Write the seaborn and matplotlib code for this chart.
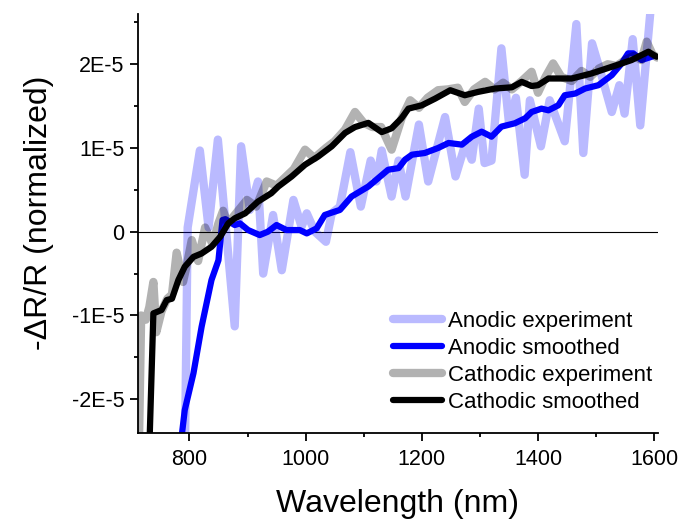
import matplotlib
matplotlib.use('Agg')
import matplotlib.pyplot as plt
from matplotlib.ticker import MultipleLocator, FuncFormatter
import numpy as np
import seaborn as sns

# values, y in units of 1E-5
SCALE = 1e-5

anodic_exp_nm = [792, 797, 818, 833, 849, 878, 889, 904, 918, 927, 944, 959, 979, 993, 1002,
                 1016, 1035, 1045, 1059, 1077, 1095, 1112, 1122, 1131, 1148, 1160, 1172, 1195,
                 1211, 1240, 1258, 1275, 1286, 1298, 1308, 1320, 1337, 1350, 1362, 1377, 1386,
                 1405, 1420, 1446, 1466, 1478, 1493, 1508, 1527, 1540, 1549, 1563, 1576, 1595]
anodic_exp_val = [-2.8, 0.05, 0.97, 0.05, 1.10, -1.13, 1.02, 0.26, 0.60, -0.50, 0.20, -0.46, 0.38,
                  0.06, 0.22, 0.0, -0.12, 0.22, 0.30, 0.95, 0.30, 0.85, 0.60, 0.97, 0.42, 0.85,
                  0.42, 1.28, 0.60, 1.37, 0.66, 1.05, 0.86, 1.47, 0.82, 0.85, 2.19, 1.30, 1.60,
                  0.68, 1.57, 1.02, 1.57, 1.08, 2.48, 0.94, 2.25, 1.90, 1.43, 1.75, 1.41, 2.30,
                  1.27, 2.75]

anodic_smooth_nm = [784, 792, 807, 821, 838, 850, 857, 862, 878, 887, 901, 921, 935, 950, 967,
                    990, 1002, 1019, 1033, 1050, 1059, 1079, 1108, 1142, 1160, 1171, 1183, 1205,
                    1228, 1246, 1269, 1286, 1303, 1320, 1337, 1360, 1378, 1389, 1406, 1418, 1435,
                    1446, 1464, 1481, 1504, 1527, 1544, 1555, 1564, 1578, 1600]
anodic_smooth_val = [-2.6, -2.13, -1.69, -1.135, -0.577, -0.34, 0.14, 0.15, 0.08, 0.10, 0.02,
                     -0.04, 0.0, 0.08, 0.02, 0.02, -0.02, 0.04, 0.20, 0.24, 0.26, 0.42, 0.54, 0.74,
                     0.76, 0.86, 0.92, 0.94, 1.00, 1.06, 1.04, 1.135, 1.195, 1.135, 1.255, 1.295,
                     1.355, 1.43, 1.47, 1.45, 1.51, 1.63, 1.65, 1.71, 1.75, 1.87, 2.01, 2.13, 2.13,
                     2.05, 2.10]

cathodic_exp_nm = [713, 717, 725, 731, 738, 743, 752, 762, 770, 778, 789, 797, 804, 815, 827,
                   840, 850, 858, 866, 878, 899, 915, 933, 950, 965, 980, 999, 1015, 1035, 1050,
                   1068, 1085, 1100, 1115, 1130, 1148, 1165, 1180, 1195, 1210, 1228, 1245, 1262,
                   1274, 1290, 1309, 1325, 1340, 1355, 1372, 1389, 1400, 1413, 1426, 1440, 1458,
                   1475, 1490, 1505, 1520, 1535, 1550, 1565, 1578, 1587, 1597, 1605]
cathodic_exp_val = [-2.6, -1.0, -1.05, -0.9, -0.6, -1.2, -0.95, -0.8, -0.75, -0.25, -0.6, -0.35,
                    -0.1, -0.35, 0.05, -0.15, 0.1, 0.25, 0.1, 0.2, 0.38, 0.3, 0.6, 0.55, 0.65,
                    0.75, 0.98, 0.88, 1.0, 1.08, 1.22, 1.43, 1.3, 1.25, 1.25, 0.98, 1.35, 1.57,
                    1.48, 1.6, 1.69, 1.7, 1.72, 1.55, 1.7, 1.79, 1.7, 1.78, 1.7, 1.8, 1.91, 1.66,
                    1.85, 2.01, 1.85, 1.8, 1.92, 1.85, 1.95, 2.0, 1.98, 2.05, 2.1, 2.05, 2.27,
                    2.12, 2.08]

cathodic_smooth_nm = [731, 738, 752, 761, 770, 781, 792, 807, 821, 838, 853, 867, 878, 896, 918,
                      941, 953, 976, 999, 1022, 1045, 1068, 1085, 1108, 1131, 1148, 1165, 1177,
                      1200, 1223, 1249, 1274, 1297, 1326, 1355, 1372, 1389, 1400, 1418, 1458,
                      1492, 1527, 1561, 1590, 1604]
cathodic_smooth_val = [-2.6, -0.975, -0.935, -0.816, -0.80, -0.577, -0.418, -0.30, -0.26, -0.18,
                       -0.06, 0.10, 0.16, 0.22, 0.36, 0.46, 0.54, 0.66, 0.80, 0.90, 1.02, 1.18,
                       1.25, 1.30, 1.19, 1.235, 1.355, 1.47, 1.51, 1.59, 1.69, 1.63, 1.67, 1.71,
                       1.725, 1.79, 1.74, 1.75, 1.83, 1.83, 1.89, 1.97, 2.05, 2.15, 2.09]

series = [
    ('Anodic experiment', anodic_exp_nm, anodic_exp_val, (0, 0, 1, 0.27), 6.0),
    ('Anodic smoothed', anodic_smooth_nm, anodic_smooth_val, (0, 0, 1, 1), 4.5),
    ('Cathodic experiment', cathodic_exp_nm, cathodic_exp_val, (0, 0, 0, 0.3), 6.0),
    ('Cathodic smoothed', cathodic_smooth_nm, cathodic_smooth_val, (0, 0, 0, 1), 4.5),
]

sns.set_theme(style='ticks')
plt.rcParams['font.family'] = ['Liberation Sans', 'DejaVu Sans']
plt.rcParams.update({'text.color': 'black', 'axes.labelcolor': 'black',
                     'xtick.color': 'black', 'ytick.color': 'black',
                     'axes.edgecolor': 'black'})

fig = plt.figure(figsize=(6.83, 5.21), dpi=100)
ax = fig.add_axes([0.2016, 0.1695, 0.7622, 0.8036])

ax.axhline(0, color='black', lw=0.8, zorder=1)

for name, xs, ys, col, lw in series:
    sns.lineplot(x=np.array(xs), y=np.array(ys) * SCALE, ax=ax, color=col[:3], alpha=col[3],
                 lw=lw, label=name, sort=False, estimator=None,
                 solid_capstyle='round', solid_joinstyle='round')

ax.set_xlim(711, 1607)
ax.set_ylim(-2.4 * SCALE, 2.6 * SCALE)

ax.xaxis.set_major_locator(MultipleLocator(200))
ax.xaxis.set_minor_locator(MultipleLocator(100))
ax.yaxis.set_major_locator(MultipleLocator(1 * SCALE))
ax.yaxis.set_minor_locator(MultipleLocator(0.5 * SCALE))
ax.yaxis.set_major_formatter(FuncFormatter(
    lambda v, p: '0' if abs(v) < 1e-12 else f'{v / SCALE:.0f}E-5'))

ax.tick_params(which='major', length=5.5, width=1.3, labelsize=15.5)
ax.tick_params(which='minor', length=3, width=1.3)
ax.tick_params(axis='x', pad=6)
ax.tick_params(axis='y', pad=4)

sns.despine(ax=ax)
for s in ['left', 'bottom']:
    ax.spines[s].set_linewidth(1.3)

ax.set_xlabel('Wavelength (nm)', fontsize=23, labelpad=14)
ax.set_ylabel('-ΔR/R (normalized)', fontsize=23, labelpad=13)
ax.yaxis.label.set_y(0.525)

leg = ax.legend(loc='upper left', bbox_to_anchor=(0.49, 0.29), frameon=False, fontsize=16,
                borderpad=0, borderaxespad=0, handlelength=2.2, handletextpad=0.3,
                labelspacing=0.27)
for h in leg.get_lines():
    h.set_solid_capstyle('round')

fig.savefig('out.png', dpi=100)
